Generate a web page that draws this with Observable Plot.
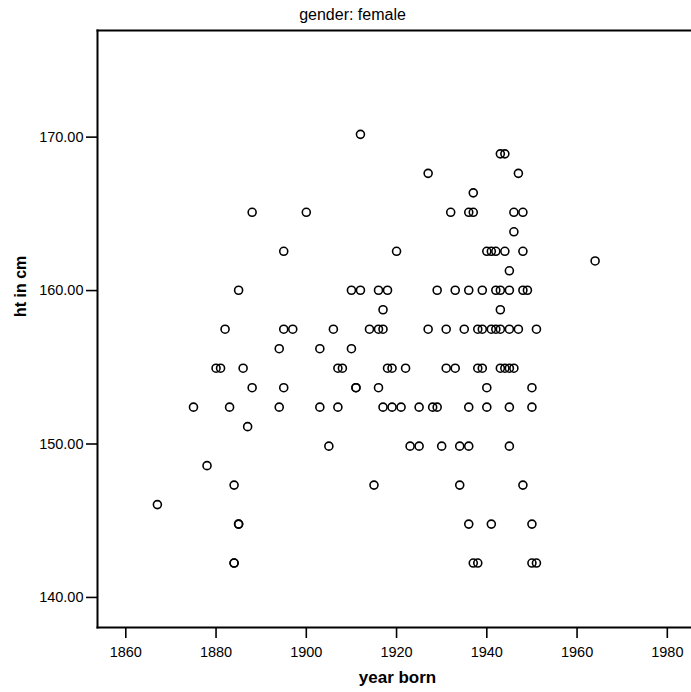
<!DOCTYPE html>
<html>
<head>
<meta charset="utf-8">
<script src="https://cdn.jsdelivr.net/npm/d3@7"></script>
<script src="https://cdn.jsdelivr.net/npm/@observablehq/plot@0.6"></script>
<style>
  html, body { margin: 0; padding: 0; background: #fff; overflow: hidden; }
  svg { display: block; }
</style>
</head>
<body>
<div id="chart"></div>
<script>
// ---- data ----
const title = "gender: female";
const xLabel = "year born";
const yLabel = "ht in cm";
const xTicks = [1860, 1880, 1900, 1920, 1940, 1960, 1980];
const yTicks = [140, 150, 160, 170];

const yearBorn = [
  1867, 1875, 1878, 1880, 1881, 1882, 1883, 1884, 1885, 1885,
  1885, 1884, 1884, 1886, 1887, 1888, 1888, 1894, 1894, 1895,
  1895, 1895, 1897, 1900, 1903, 1903, 1905, 1906, 1907, 1908,
  1907, 1910, 1912, 1916, 1918, 1929, 1917, 1914, 1916, 1917,
  1927, 1910, 1918, 1919, 1922, 1911, 1911, 1916, 1917, 1919,
  1921, 1925, 1928, 1929, 1936, 1940, 1945, 1950, 1923, 1925,
  1930, 1934, 1936, 1945, 1915, 1934, 1948, 1936, 1941, 1950,
  1937, 1938, 1950, 1951, 1912, 1943, 1944, 1927, 1947, 1937,
  1932, 1936, 1937, 1946, 1948, 1946, 1920, 1940, 1941, 1942,
  1944, 1948, 1964, 1945, 1933, 1936, 1939, 1942, 1943, 1945,
  1948, 1949, 1943, 1931, 1935, 1938, 1939, 1941, 1942, 1943,
  1945, 1947, 1951, 1931, 1933, 1938, 1939, 1943, 1944, 1945,
  1946, 1940, 1950
];
const htCm = [
  146.05, 152.40, 148.59, 154.94, 154.94, 157.48, 152.40, 147.32, 160.02, 144.78,
  144.78, 142.24, 142.24, 154.94, 151.13, 153.67, 165.10, 156.21, 152.40, 153.67,
  162.56, 157.48, 157.48, 165.10, 156.21, 152.40, 149.86, 157.48, 154.94, 154.94,
  152.40, 160.02, 160.02, 160.02, 160.02, 160.02, 158.75, 157.48, 157.48, 157.48,
  157.48, 156.21, 154.94, 154.94, 154.94, 153.67, 153.67, 153.67, 152.40, 152.40,
  152.40, 152.40, 152.40, 152.40, 152.40, 152.40, 152.40, 152.40, 149.86, 149.86,
  149.86, 149.86, 149.86, 149.86, 147.32, 147.32, 147.32, 144.78, 144.78, 144.78,
  142.24, 142.24, 142.24, 142.24, 170.18, 168.91, 168.91, 167.64, 167.64, 166.37,
  165.10, 165.10, 165.10, 165.10, 165.10, 163.83, 162.56, 162.56, 162.56, 162.56,
  162.56, 162.56, 161.93, 161.29, 160.02, 160.02, 160.02, 160.02, 160.02, 160.02,
  160.02, 160.02, 158.75, 157.48, 157.48, 157.48, 157.48, 157.48, 157.48, 157.48,
  157.48, 157.48, 157.48, 154.94, 154.94, 154.94, 154.94, 154.94, 154.94, 154.94,
  154.94, 153.67, 153.67
];

const points = yearBorn.map((y, i) => ({year: y, ht: htCm[i]}));

const font = "'Liberation Sans', Arial, Helvetica, sans-serif";

const chart = Plot.plot({
  width: 691,
  height: 692,
  marginLeft: 97,
  marginRight: 0,
  marginTop: 30,
  marginBottom: 65,
  style: {fontFamily: font, background: "#fff", color: "#000", overflow: "visible"},
  x: {domain: [1853.73, 1985.36], label: null},
  y: {domain: [138.04, 176.95], label: null},
  marks: [
    Plot.axisX({ticks: xTicks, tickFormat: d => String(d), tickSize: 11, tickPadding: 8,
                strokeWidth: 1.6, fontSize: 14.5, label: null}),
    Plot.axisY({ticks: yTicks, tickFormat: d => d.toFixed(2), tickSize: 11, tickPadding: 3,
                strokeWidth: 1.6, fontSize: 14.5, label: null}),
    Plot.frame({anchor: "left", strokeWidth: 2}),
    Plot.frame({anchor: "top", strokeWidth: 2}),
    Plot.frame({anchor: "bottom", strokeWidth: 2}),
    Plot.dot(points, {x: "year", y: "ht", r: 4, stroke: "#000", strokeWidth: 1.6, fill: "none"}),
    Plot.text([title], {frameAnchor: "top", dx: -42, dy: -16, lineAnchor: "middle",
                        fontSize: 16, fill: "#000", text: d => d}),
    Plot.text([xLabel], {frameAnchor: "bottom", dx: 3, dy: 50, lineAnchor: "middle",
                         fontSize: 17, fontWeight: "bold", fill: "#000", text: d => d}),
    Plot.text([yLabel], {frameAnchor: "left", dx: -77, dy: -12, rotate: -90, lineAnchor: "middle",
                         fontSize: 16, fontWeight: "bold", fill: "#000", text: d => d})
  ]
});

document.getElementById("chart").appendChild(chart);
</script>
</body>
</html>
